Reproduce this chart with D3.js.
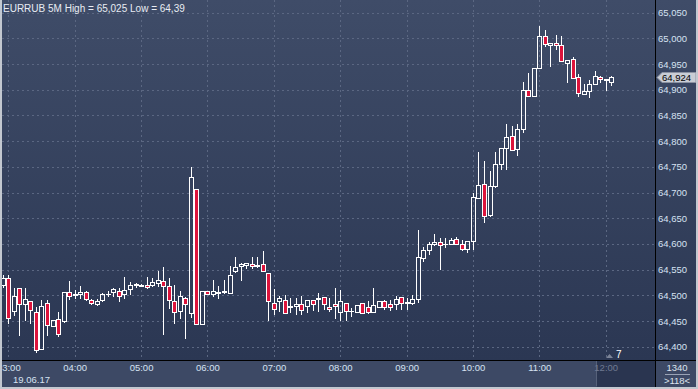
<!DOCTYPE html>
<html>
<head>
<meta charset="utf-8">
<script src="https://cdn.jsdelivr.net/npm/d3@7"></script>
<style>
body{margin:0;background:#2f3b57;}
svg{display:block;font-family:"Liberation Sans",Arial,sans-serif;}
</style>
</head>
<body>
<svg id="chart" width="698" height="389"></svg>
<script>
// EURRUB 5M, 19.06.17
const title = "EURRUB 5M High = 65,025 Low = 64,39";
const dateLabel = "19.06.17";
const times = ["02:55",
 "03:00","03:05","03:10","03:15","03:20","03:25","03:30","03:35","03:40","03:45","03:50","03:55",
 "04:00","04:05","04:10","04:15","04:20","04:25","04:30","04:35","04:40","04:45","04:50","04:55",
 "05:00","05:05","05:10","05:15","05:20","05:25","05:30","05:35","05:40","05:45","05:50","05:55",
 "06:00","06:05","06:10","06:15","06:20","06:25","06:30","06:35","06:40","06:45","06:50","06:55",
 "07:00","07:05","07:10","07:15","07:20","07:25","07:30","07:35","07:40","07:45","07:50","07:55",
 "08:00","08:05","08:10","08:15","08:20","08:25","08:30","08:35","08:40","08:45","08:50","08:55",
 "09:00","09:05","09:10","09:15","09:20","09:25","09:30","09:35","09:40","09:45","09:50","09:55",
 "10:00","10:05","10:10","10:15","10:20","10:25","10:30","10:35","10:40","10:45","10:50","10:55",
 "11:00","11:05","11:10","11:15","11:20","11:25","11:30","11:35","11:40","11:45","11:50","11:55",
 "12:00","12:05"];
const open = [64.520,
 64.533,64.470,64.515,64.484,64.489,64.468,64.395,64.486,64.440,64.453,64.450,64.507,
 64.502,64.502,64.507,64.490,64.484,64.491,64.502,64.506,64.509,64.502,64.512,64.521,
 64.519,64.521,64.521,64.524,64.527,64.519,64.489,64.469,64.494,64.465,64.706,64.444,
 64.508,64.502,64.506,64.506,64.505,64.547,64.558,64.559,64.560,64.558,64.561,64.544,
 64.486,64.489,64.491,64.478,64.480,64.484,64.479,64.491,64.493,64.497,64.478,64.484,
 64.468,64.486,64.469,64.467,64.486,64.478,64.468,64.477,64.489,64.484,64.483,64.496,
 64.486,64.486,64.492,64.573,64.588,64.599,64.603,64.599,64.599,64.609,64.599,64.590,
 64.606,64.689,64.717,64.656,64.713,64.755,64.787,64.810,64.784,64.823,64.900,64.887,
 64.943,65.005,64.987,64.992,64.988,64.953,64.960,64.924,64.892,64.898,64.911,64.924,
 64.919,64.916];
const high = [64.539,
 64.539,64.514,64.515,64.514,64.489,64.478,64.491,64.491,64.451,64.468,64.506,64.528,
 64.510,64.518,64.508,64.493,64.493,64.504,64.509,64.515,64.515,64.536,64.526,64.524,
 64.522,64.536,64.533,64.547,64.556,64.534,64.520,64.508,64.497,64.749,64.706,64.509,
 64.508,64.530,64.518,64.530,64.558,64.575,64.562,64.563,64.575,64.575,64.586,64.544,
 64.512,64.499,64.500,64.495,64.494,64.498,64.491,64.491,64.504,64.497,64.494,64.514,
 64.510,64.486,64.476,64.482,64.486,64.488,64.515,64.489,64.491,64.491,64.499,64.497,
 64.494,64.500,64.627,64.595,64.603,64.619,64.611,64.611,64.611,64.613,64.608,64.606,
 64.700,64.779,64.762,64.742,64.779,64.787,64.833,64.830,64.833,64.916,64.932,64.942,
 65.025,65.016,64.992,65.007,65.005,64.957,64.963,64.930,64.911,64.919,64.937,64.927,
 64.920,64.927];
const low = [64.516,
 64.447,64.462,64.423,64.451,64.446,64.390,64.395,64.423,64.440,64.421,64.448,64.492,
 64.494,64.494,64.491,64.483,64.481,64.489,64.499,64.499,64.489,64.494,64.502,64.517,
 64.518,64.515,64.518,64.518,64.424,64.475,64.446,64.455,64.417,64.458,64.444,64.444,
 64.502,64.499,64.494,64.504,64.504,64.546,64.530,64.554,64.554,64.556,64.547,64.451,
 64.464,64.470,64.465,64.468,64.463,64.463,64.468,64.471,64.470,64.473,64.469,64.455,
 64.452,64.452,64.460,64.467,64.465,64.465,64.468,64.477,64.473,64.471,64.473,64.473,
 64.473,64.484,64.487,64.567,64.580,64.598,64.551,64.595,64.599,64.599,64.588,64.584,
 64.590,64.689,64.643,64.654,64.711,64.746,64.746,64.783,64.773,64.818,64.888,64.887,
 64.942,64.986,64.947,64.979,64.956,64.915,64.922,64.888,64.892,64.885,64.911,64.915,
 64.900,64.909];
const close = [64.533,
 64.455,64.499,64.483,64.492,64.471,64.394,64.480,64.442,64.451,64.425,64.506,64.499,
 64.501,64.506,64.492,64.485,64.489,64.502,64.503,64.512,64.499,64.510,64.520,64.522,
 64.521,64.517,64.526,64.529,64.519,64.491,64.467,64.499,64.484,64.730,64.444,64.509,
 64.502,64.508,64.505,64.508,64.539,64.556,64.561,64.562,64.557,64.559,64.547,64.488,
 64.473,64.494,64.466,64.479,64.484,64.471,64.491,64.483,64.495,64.484,64.473,64.479,
 64.488,64.469,64.470,64.482,64.465,64.468,64.481,64.488,64.477,64.477,64.492,64.486,
 64.487,64.492,64.575,64.588,64.599,64.603,64.598,64.600,64.608,64.599,64.591,64.606,
 64.691,64.715,64.655,64.713,64.755,64.786,64.808,64.783,64.823,64.900,64.888,64.942,
 65.005,64.990,64.992,64.987,64.956,64.957,64.922,64.893,64.898,64.911,64.926,64.921,
 64.920,64.924];
const priceTicks = [65.05,65.00,64.95,64.90,64.85,64.80,64.75,64.70,64.65,64.60,64.55,64.50,64.45,64.40];
const timeTicks = ["03:00","04:00","05:00","06:00","07:00","08:00","09:00","10:00","11:00","12:00"];
const lastPrice = 64.924;
const barsInfo = ["1340", ">118<"];
const shiftLabel = "7";

const svg = d3.select("#chart");
const plotR = 655, plotB = 360;
const parseT = d3.timeParse("%d.%m.%y %H:%M");
const t = s => parseT(dateLabel + " " + s);
const x = d3.scaleTime().domain([t("03:00"), t("12:00")]).range([8.3, 605.7]);
const y = d3.scaleLinear().domain([64.40, 65.05]).range([346.7, 12.7]);
const fmt = v => d3.format(".3f")(v).replace(".", ",");

//背景渐变
const defs = svg.append("defs");
const grad = defs.append("linearGradient").attr("id", "bg").attr("x1", 0).attr("y1", 0).attr("x2", 0).attr("y2", 1);
grad.append("stop").attr("offset", "0%").attr("stop-color", "#3f4c68");
grad.append("stop").attr("offset", "100%").attr("stop-color", "#2b3753");
defs.append("clipPath").attr("id", "clip").append("rect").attr("x", 2).attr("y", 0).attr("width", plotR - 2).attr("height", plotB);
//时间轴的裁剪框用轴自身的坐标
defs.append("clipPath").attr("id", "clipx").append("rect").attr("x", 2).attr("y", 0).attr("width", plotR - 2).attr("height", 29);

svg.append("rect").attr("x", 0).attr("y", 0).attr("width", 698).attr("height", plotB).attr("fill", "url(#bg)");
svg.append("rect").attr("x", 0).attr("y", plotB).attr("width", 698).attr("height", 29).attr("fill", "#3d4965");
svg.append("rect").attr("x", 597).attr("y", plotB + 1).attr("width", plotR - 597).attr("height", 28).attr("fill", "#2a3550");

//网格
const grid = svg.append("g").attr("clip-path", "url(#clip)")
	.attr("stroke", "#5b6782").attr("stroke-dasharray", "2,3").attr("stroke-width", 1);
grid.selectAll(".h").data(priceTicks).enter().append("line")
	.attr("x1", 2).attr("x2", plotR)
	.attr("y1", d => Math.round(y(d)) + 0.5).attr("y2", d => Math.round(y(d)) + 0.5);
grid.selectAll(".v").data(timeTicks).enter().append("line")
	.attr("y1", 0).attr("y2", plotB)
	.attr("x1", d => Math.round(x(t(d))) + 0.5).attr("x2", d => Math.round(x(t(d))) + 0.5);

//K线：影线只画实体之外的部分，空心实体透出背景
const bars = times.map((s, i) => ({time: t(s), o: open[i], h: high[i], l: low[i], c: close[i]}));
const cx = d => Math.round(x(d.time));
const bodyTop = d => Math.round(y(Math.max(d.o, d.c)));
const bodyBot = d => Math.round(y(Math.min(d.o, d.c)));
const candles = svg.append("g").attr("clip-path", "url(#clip)");
candles.selectAll(".hi").data(bars).enter().append("line")
	.attr("x1", d => cx(d) + 0.5).attr("x2", d => cx(d) + 0.5)
	.attr("y1", d => Math.round(y(d.h))).attr("y2", d => bodyTop(d) + 0.5)
	.attr("stroke", "#ffffff");
candles.selectAll(".lo").data(bars).enter().append("line")
	.attr("x1", d => cx(d) + 0.5).attr("x2", d => cx(d) + 0.5)
	.attr("y1", d => bodyBot(d) + 0.5).attr("y2", d => Math.round(y(d.l)) + 1)
	.attr("stroke", "#ffffff");
candles.selectAll("rect").data(bars).enter().append("rect")
	.attr("x", d => cx(d) - 1.5)
	.attr("y", d => bodyTop(d) + 0.5)
	.attr("width", 4)
	.attr("height", d => Math.max(0.01, bodyBot(d) - bodyTop(d)))
	.attr("fill", d => d.c < d.o ? "#dc143c" : "none")
	.attr("stroke", "#ffffff").attr("stroke-width", 1);

//边框线
svg.append("line").attr("x1", 0).attr("x2", 698).attr("y1", plotB + 0.5).attr("y2", plotB + 0.5).attr("stroke", "#000");
svg.append("line").attr("x1", plotR + 0.5).attr("x2", plotR + 0.5).attr("y1", 0).attr("y2", 389).attr("stroke", "#000");
svg.append("line").attr("x1", 596.5).attr("x2", 596.5).attr("y1", plotB + 1).attr("y2", 386).attr("stroke", "#56617a");

//价格轴
const axisY = svg.append("g").attr("transform", `translate(${plotR},0)`)
	.call(d3.axisRight(y).tickValues(priceTicks).tickFormat(fmt).tickSize(0).tickPadding(3));
axisY.select(".domain").remove();
axisY.selectAll("text").attr("fill", "#d6e2f2").attr("font-size", "9.5px").attr("font-family", "Liberation Sans,Arial,sans-serif");

//时间轴
const axisX = svg.append("g").attr("transform", `translate(0,${plotB})`).attr("clip-path", "url(#clipx)")
	.call(d3.axisBottom(x).tickValues(timeTicks.map(t)).tickFormat(d3.timeFormat("%H:%M")).tickSize(0).tickPadding(4));
axisX.select(".domain").remove();
axisX.selectAll("text").attr("fill", d => x(d) > 597 ? "#6f7a92" : "#d6e2f2")
	.attr("font-size", "9.5px").attr("font-family", "Liberation Sans,Arial,sans-serif");
svg.append("text").attr("x", 13).attr("y", 383).attr("fill", "#d6e2f2").attr("font-size", "9.5px").text(dateLabel);

//标题
svg.append("text").attr("x", 3).attr("y", 12).attr("fill", "#e8ecf3").attr("font-size", "10px").text(title);

//当前价格标签
const py = Math.round(y(lastPrice)) + 0.5;
svg.append("path")
	.attr("d", `M657,${py} L662,${py - 5} L696,${py - 5} L696,${py + 5} L662,${py + 5} Z`)
	.attr("fill", "#c9cdd5").attr("stroke", "#8c93a3");
svg.append("text").attr("x", 662).attr("y", py).attr("dy", "0.35em")
	.attr("fill", "#000").attr("font-size", "9.5px").text(fmt(lastPrice));

//右下角信息
svg.append("text").attr("x", 677).attr("y", 371).attr("text-anchor", "middle").attr("fill", "#dde4ee").attr("font-size", "9.5px").text(barsInfo[0]);
svg.append("line").attr("x1", 665).attr("x2", 690).attr("y1", 374.5).attr("y2", 374.5).attr("stroke", "#9aa3b5");
svg.append("text").attr("x", 677).attr("y", 384).attr("text-anchor", "middle").attr("fill", "#dde4ee").attr("font-size", "9.5px").text(barsInfo[1]);

//图表偏移标记
svg.append("path").attr("d", "M606,358 L609.5,354 L613,358 Z").attr("fill", "#7c8498");
svg.append("text").attr("x", 616).attr("y", 358).attr("fill", "#ffffff").attr("font-size", "10px").text(shiftLabel);

//窗口边框
svg.append("rect").attr("x", 0).attr("y", 0).attr("width", 2).attr("height", 389).attr("fill", "#c3c8d0");
svg.append("rect").attr("x", 0).attr("y", 387).attr("width", 698).attr("height", 2).attr("fill", "#c3c8d0");
svg.append("rect").attr("x", 696).attr("y", 0).attr("width", 2).attr("height", 389).attr("fill", "#c3c8d0");
</script>
</body>
</html>
